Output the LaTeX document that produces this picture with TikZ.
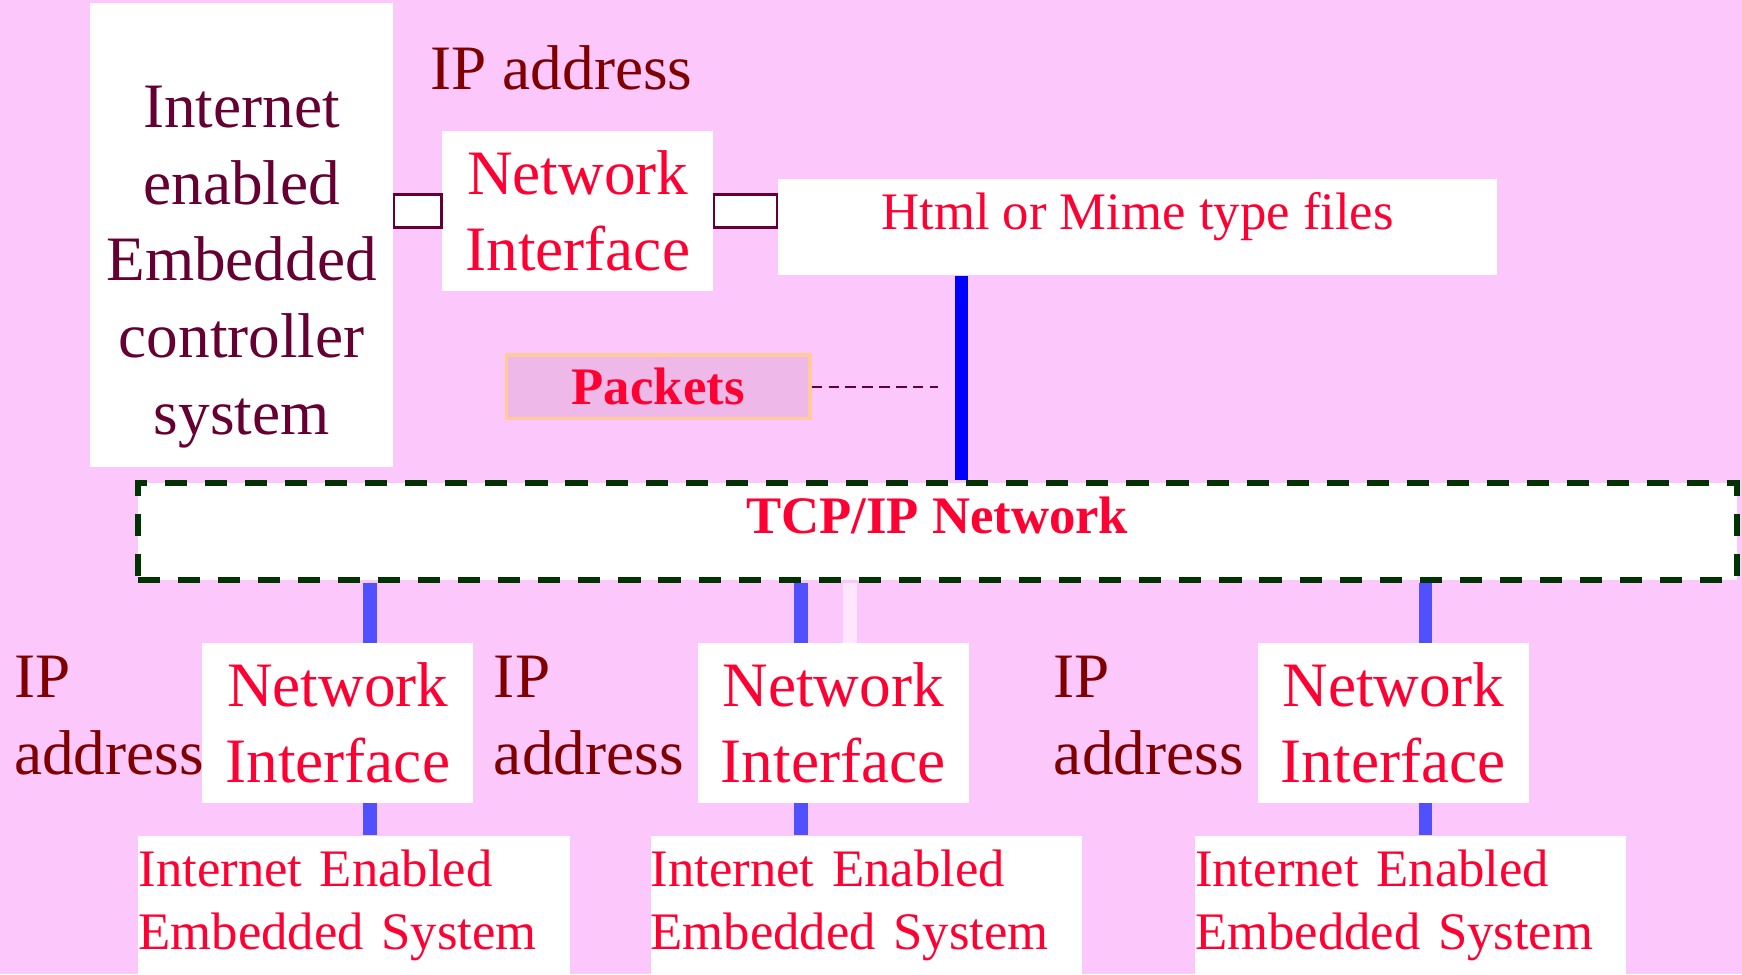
\documentclass[tikz,border=0pt]{standalone}
\usepackage{fontspec}
\setmainfont{Liberation Serif}
\usetikzlibrary{calc}

\definecolor{bgpink}{HTML}{FCC8FC}
\definecolor{plum}{HTML}{660033}
\definecolor{ipred}{HTML}{800000}
\definecolor{textred}{HTML}{FF0033}
\definecolor{pktfill}{HTML}{EEB8E8}
\definecolor{pktline}{HTML}{FFCC99}
\definecolor{netgreen}{HTML}{003300}
\definecolor{busblue}{HTML}{5050FF}
\definecolor{palebus}{HTML}{FFE6FF}

\tikzset{
  whitebox/.style={fill=white, inner sep=0pt},
  bigfont/.style={font=\fontsize{18}{21.8}\selectfont},
  smallfont/.style={font=\fontsize{15}{18}\selectfont},
  boldfont/.style={font=\fontsize{15}{18}\selectfont\bfseries},
  pipe/.style={draw=plum, line width=0.8pt, fill=white},
  bus/.style={busblue, line width=3.8pt},
}

\begin{document}
\begin{tikzpicture}[x=0.1111mm,y=-0.1111mm]
\fill[bgpink] (0,0) rectangle (1568,877);
\useasboundingbox (0,0) rectangle (1568,877);

% embedded controller and its interface
\node[whitebox, minimum width=30.33mm, minimum height=46.33mm] (ctrl) at (217.5,211.5) {};
\node[bigfont, text=plum, align=center, inner sep=0pt, anchor=north] (ctrltext) at (217.5,77) {Internet\\enabled\\Embedded\\controller\\system};
\node[bigfont, text=ipred, inner sep=0pt, anchor=base west] (iptop) at (387,80.4) {IP address};
\node[whitebox, bigfont, text=textred, align=center, minimum width=27.11mm, minimum height=15.95mm] (ni) at (520,189.8) {Network\\Interface};
\node[whitebox, smallfont, text=textred, minimum width=71.96mm, minimum height=9.59mm, text height=10pt, text depth=8.3pt] (html) at (1023.9,204.2) {Html or Mime type files};

\draw[pipe] ($(ctrl.east |- ni.west)+(0,-14.8)$) rectangle ($(ni.west)+(0,14.8)$);
\draw[pipe] ($(ni.east)+(0,-14.8)$) rectangle ($(html.west |- ni.east)+(0,14.8)$);

% packets
\node[fill=pktfill, draw=pktline, line width=1pt, boldfont, text=textred, minimum width=30.36mm, minimum height=6.33mm, inner sep=0pt] (packets) at (592.4,348) {Packets};
\coordinate (dashend) at (844,348);
\draw[plum, line width=0.6pt, dash pattern=on 3pt off 1.8pt] (packets.east) -- (dashend);

% network
\node[fill=white, draw=netgreen, line width=1.7pt, dash pattern=on 6.3pt off 5.1pt, boldfont, text=textred, minimum width=159.9mm, minimum height=9.67mm, text height=10pt, text depth=8.7pt, inner sep=0pt] (tcp) at (843.5,478.5) {TCP/IP Network};

\coordinate (bustop) at ($(html.south west)+(166,0)$);
\draw[blue, line width=3.8pt] (bustop) -- (bustop |- tcp.north);

% embedded systems
\node[whitebox, bigfont, text=textred, align=center, minimum width=27.11mm, minimum height=15.94mm] (ni1) at (304,650.8) {Network\\Interface};
\node[whitebox, bigfont, text=textred, align=center, minimum width=27.11mm, minimum height=15.94mm] (ni2) at (750,650.8) {Network\\Interface};
\node[whitebox, bigfont, text=textred, align=center, minimum width=27.11mm, minimum height=15.94mm] (ni3) at (1254,650.8) {Network\\Interface};

\node[whitebox, smallfont, text=textred, align=left, text width=43.11mm, minimum height=13.93mm, anchor=north west] (ies1) at (124,751.6) {Internet Enabled\\Embedded System};
\node[whitebox, smallfont, text=textred, align=left, text width=43.11mm, minimum height=13.93mm, anchor=north west] (ies2) at (585,751.6) {Internet Enabled\\Embedded System};
\node[whitebox, smallfont, text=textred, align=left, text width=43.11mm, minimum height=13.93mm, anchor=north west] (ies3) at (1075,751.6) {Internet Enabled\\Embedded System};

\node[bigfont, text=ipred, align=left, inner sep=0pt, anchor=north west] (ip1) at (12,590.3) {IP\\address};
\node[bigfont, text=ipred, align=left, inner sep=0pt, anchor=north west] (ip2) at (444,590.3) {IP\\address};
\node[bigfont, text=ipred, align=left, inner sep=0pt, anchor=north west] (ip3) at (948,590.3) {IP\\address};

\coordinate (tap1) at ($(ni1.north)+(29,0)$);
\coordinate (tap2) at ($(ni2.north)+(-29,0)$);
\coordinate (tap3) at ($(ni3.north)+(29,0)$);
\coordinate (tapx) at ($(ni2.north)+(15,0)$);

\draw[bus] (tap1 |- tcp.south) -- (tap1);
\draw[bus] (tap2 |- tcp.south) -- (tap2);
\draw[bus] (tap3 |- tcp.south) -- (tap3);
\draw[palebus, line width=3.8pt] (tapx |- tcp.south) -- (tapx);

\draw[bus] (ni1.south -| tap1) -- (ies1.north -| tap1);
\draw[bus] (ni2.south -| tap2) -- (ies2.north -| tap2);
\draw[bus] (ni3.south -| tap3) -- (ies3.north -| tap3);

\end{tikzpicture}
\end{document}
